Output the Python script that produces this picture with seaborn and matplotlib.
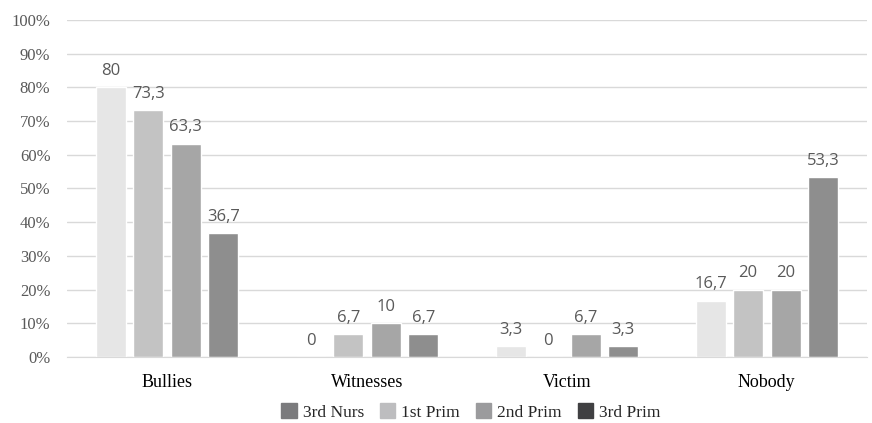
import pandas as pd
import matplotlib.pyplot as plt
import matplotlib.patches as mpatches
import seaborn as sns

# data
categories = ["Bullies", "Witnesses", "Victim", "Nobody"]
groups = ["3rd Nurs", "1st Prim", "2nd Prim", "3rd Prim"]
nurs3 = [80, 0, 3.3, 16.7]
prim1 = [73.3, 6.7, 0, 20]
prim2 = [63.3, 10, 6.7, 20]
prim3 = [36.7, 6.7, 3.3, 53.3]

bar_colors = ["#e6e6e6", "#c3c3c3", "#a6a6a6", "#8e8e8e"]
legend_colors = ["#7b7b7d", "#bdbdbf", "#9b9b9d", "#404042"]

rows = []
for g, vals in zip(groups, [nurs3, prim1, prim2, prim3]):
    for c, v in zip(categories, vals):
        rows.append({"category": c, "group": g, "value": v})
df = pd.DataFrame(rows)

sns.set_style("white")
fig = plt.figure(figsize=(8.72, 4.23), dpi=100)
ax = fig.add_axes([0.077, 0.156, 0.917, 0.797])

sns.barplot(data=df, x="category", y="value", hue="group", order=categories,
            hue_order=groups, palette=bar_colors, width=0.75, gap=0.2,
            ax=ax, legend=False, saturation=1)

ax.set_ylim(0, 100)
ax.set_xlim(-0.5, 3.5)
ax.set_yticks(range(0, 101, 10))
ax.set_yticklabels([f"{t}%" for t in range(0, 101, 10)],
                   fontfamily="Liberation Serif", fontsize=12, color="#595959")
ax.set_xticklabels(categories, fontfamily="Liberation Serif", fontsize=13, color="#000000")
ax.tick_params(axis="x", length=0, pad=12)
ax.tick_params(axis="y", length=0, pad=12)
ax.set_xlabel("")
ax.set_ylabel("")
ax.grid(axis="y", color="#d9d9d9", linewidth=1)
ax.set_axisbelow(True)
for s in ["top", "right", "left"]:
    ax.spines[s].set_visible(False)
ax.spines["bottom"].set_color("#d9d9d9")

# value labels above bars
for cont in ax.containers:
    labels = [f"{v:g}".replace(".", ",") for v in cont.datavalues]
    ax.bar_label(cont, labels=labels, padding=6, fontfamily="Open Sans",
                 fontsize=12, color="#595959")

handles = [mpatches.Patch(color=c, label=g) for g, c in zip(groups, legend_colors)]
fig.legend(handles=handles, loc="center", bbox_to_anchor=(0.54, 0.026), ncol=4,
           frameon=False, prop={"family": "Liberation Serif", "size": 12.5},
           handlelength=0.9, handleheight=0.9, handletextpad=0.35, columnspacing=0.9)

fig.savefig("out.png", dpi=100)
